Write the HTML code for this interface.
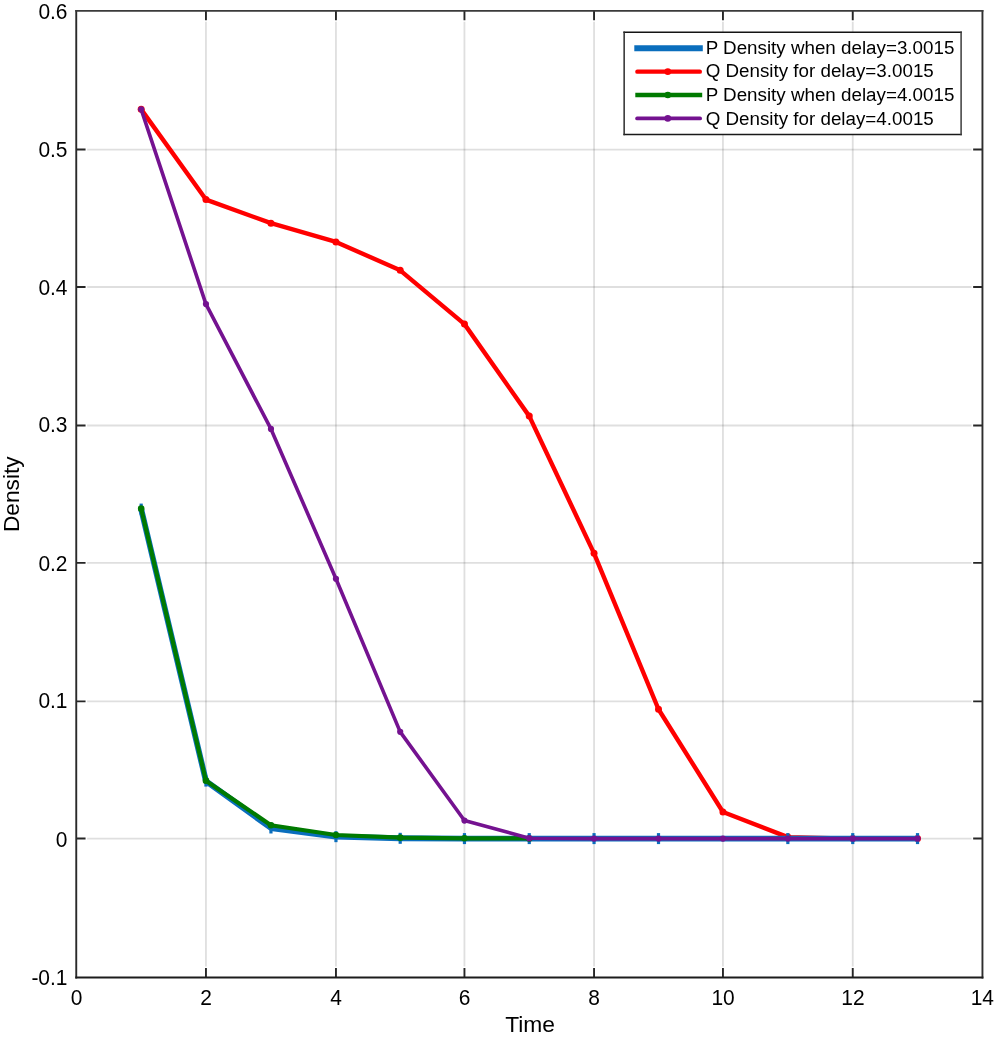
<!DOCTYPE html><html><head><meta charset="utf-8"><title>Density vs Time</title><style>html,body{margin:0;padding:0;background:#fff;overflow:hidden;width:995px;height:1038px;}svg{display:block;will-change:transform;}text{font-family:"Liberation Sans",sans-serif;fill:#000;}</style></head><body>
<svg width="995" height="1038" viewBox="0 0 995 1038">
<rect width="995" height="1038" fill="#fff"/>
<g stroke="#262626" stroke-opacity="0.15" stroke-width="1.8" fill="none"><path d="M205.95 21.80V966.50M335.95 21.80V966.50M464.45 21.80V966.50M594.05 21.80V966.50M722.95 21.80V966.50M852.75 21.80V966.50"/><path d="M87.15 149.54H971.55M87.15 287.00H971.55M87.15 425.50H971.55M87.15 562.83H971.55M87.15 701.40H971.55M87.15 838.55H971.55"/></g>
<path d="M205.95 977.40V968.10M205.95 10.90V20.20M335.95 977.40V968.10M335.95 10.90V20.20M464.45 977.40V968.10M464.45 10.90V20.20M594.05 977.40V968.10M594.05 10.90V20.20M722.95 977.40V968.10M722.95 10.90V20.20M852.75 977.40V968.10M852.75 10.90V20.20M76.25 149.54H85.55M982.45 149.54H973.15M76.25 287.00H85.55M982.45 287.00H973.15M76.25 425.50H85.55M982.45 425.50H973.15M76.25 562.83H85.55M982.45 562.83H973.15M76.25 701.40H85.55M982.45 701.40H973.15M76.25 838.55H85.55M982.45 838.55H973.15" stroke="#262626" stroke-width="1.9" fill="none"/>
<path d="M76.25 9.95V978.40" stroke="#2a2a2a" stroke-width="1.9"/>
<path d="M982.45 9.95V978.40" stroke="#2e2e2e" stroke-width="1.9"/>
<path d="M75.30 10.90H983.40" stroke="#3a3a3a" stroke-width="1.9"/>
<path d="M75.30 977.40H983.40" stroke="#1c1c1c" stroke-width="2"/>
<polyline points="141.18,109.36 205.95,199.57 270.95,223.16 335.95,241.91 400.20,270.33 464.45,324.12 529.25,416.12 594.05,553.36 658.50,709.22 722.95,811.98 787.85,837.08 852.75,838.60 917.52,838.60" fill="none" stroke="#ff0000" stroke-width="4.4" stroke-linejoin="round"/><circle cx="141.18" cy="109.36" r="3.5" fill="#ff0000"/><circle cx="205.95" cy="199.57" r="3.5" fill="#ff0000"/><circle cx="270.95" cy="223.16" r="3.5" fill="#ff0000"/><circle cx="335.95" cy="241.91" r="3.5" fill="#ff0000"/><circle cx="400.20" cy="270.33" r="3.5" fill="#ff0000"/><circle cx="464.45" cy="324.12" r="3.5" fill="#ff0000"/><circle cx="529.25" cy="416.12" r="3.5" fill="#ff0000"/><circle cx="594.05" cy="553.36" r="3.5" fill="#ff0000"/><circle cx="658.50" cy="709.22" r="3.5" fill="#ff0000"/><circle cx="722.95" cy="811.98" r="3.5" fill="#ff0000"/><circle cx="787.85" cy="837.08" r="3.5" fill="#ff0000"/><circle cx="852.75" cy="838.60" r="3.5" fill="#ff0000"/><circle cx="917.52" cy="838.60" r="3.5" fill="#ff0000"/>
<polyline points="141.18,509.09 205.95,781.08 270.95,827.98 335.95,836.67 400.20,838.32 464.45,838.60 529.25,838.60 594.05,838.60 658.50,838.60 722.95,838.60 787.85,838.60 852.75,838.60 917.52,838.60" fill="none" stroke="#0a6ebd" stroke-width="5.9" stroke-linejoin="round"/><path d="M141.18 503.59V514.59" stroke="#0a6ebd" stroke-width="3.2"/><path d="M205.95 775.58V786.58" stroke="#0a6ebd" stroke-width="3.2"/><path d="M270.95 822.48V833.48" stroke="#0a6ebd" stroke-width="3.2"/><path d="M335.95 831.17V842.17" stroke="#0a6ebd" stroke-width="3.2"/><path d="M400.20 832.82V843.82" stroke="#0a6ebd" stroke-width="3.2"/><path d="M464.45 833.10V844.10" stroke="#0a6ebd" stroke-width="3.2"/><path d="M529.25 833.10V844.10" stroke="#0a6ebd" stroke-width="3.2"/><path d="M594.05 833.10V844.10" stroke="#0a6ebd" stroke-width="3.2"/><path d="M658.50 833.10V844.10" stroke="#0a6ebd" stroke-width="3.2"/><path d="M787.85 833.10V844.10" stroke="#0a6ebd" stroke-width="3.2"/><path d="M852.75 833.10V844.10" stroke="#0a6ebd" stroke-width="3.2"/><path d="M917.52 833.10V844.10" stroke="#0a6ebd" stroke-width="3.2"/>
<polyline points="141.18,508.67 205.95,780.67 270.95,825.22 335.95,835.01 400.20,837.63 464.45,838.32 529.25,838.46" fill="none" stroke="#007a00" stroke-width="4.2" stroke-linejoin="round"/><circle cx="141.18" cy="508.67" r="3.3" fill="#007a00"/><circle cx="205.95" cy="780.67" r="3.3" fill="#007a00"/><circle cx="270.95" cy="825.22" r="3.3" fill="#007a00"/><circle cx="335.95" cy="835.01" r="3.3" fill="#007a00"/><circle cx="400.20" cy="837.63" r="3.3" fill="#007a00"/><circle cx="464.45" cy="838.32" r="3.3" fill="#007a00"/><circle cx="529.25" cy="838.46" r="3.3" fill="#007a00"/>
<polyline points="141.18,109.36 205.95,304.12 270.95,428.95 335.95,578.74 400.20,731.84 464.45,820.53 529.25,838.19 594.05,838.60 658.50,838.60 722.95,838.60 787.85,838.60 852.75,838.60 917.52,838.60" fill="none" stroke="#741290" stroke-width="3.6" stroke-linejoin="round"/><circle cx="141.18" cy="109.36" r="3.1" fill="#741290"/><circle cx="205.95" cy="304.12" r="3.1" fill="#741290"/><circle cx="270.95" cy="428.95" r="3.1" fill="#741290"/><circle cx="335.95" cy="578.74" r="3.1" fill="#741290"/><circle cx="400.20" cy="731.84" r="3.1" fill="#741290"/><circle cx="464.45" cy="820.53" r="3.1" fill="#741290"/><circle cx="529.25" cy="838.19" r="3.1" fill="#741290"/><circle cx="594.05" cy="838.60" r="3.1" fill="#741290"/><circle cx="658.50" cy="838.60" r="3.1" fill="#741290"/><circle cx="722.95" cy="838.60" r="3.1" fill="#741290"/><circle cx="787.85" cy="838.60" r="3.1" fill="#741290"/><circle cx="852.75" cy="838.60" r="3.1" fill="#741290"/><circle cx="917.52" cy="838.60" r="3.1" fill="#741290"/>
<text transform="translate(76.60,1005.2) scale(0.975,1)" font-size="21.5" text-anchor="middle">0</text>
<text transform="translate(206.10,1005.2) scale(0.975,1)" font-size="21.5" text-anchor="middle">2</text>
<text transform="translate(336.10,1005.2) scale(0.975,1)" font-size="21.5" text-anchor="middle">4</text>
<text transform="translate(464.60,1005.2) scale(0.975,1)" font-size="21.5" text-anchor="middle">6</text>
<text transform="translate(594.20,1005.2) scale(0.975,1)" font-size="21.5" text-anchor="middle">8</text>
<text transform="translate(723.10,1005.2) scale(0.975,1)" font-size="21.5" text-anchor="middle">10</text>
<text transform="translate(852.90,1005.2) scale(0.975,1)" font-size="21.5" text-anchor="middle">12</text>
<text transform="translate(982.35,1005.2) scale(0.975,1)" font-size="21.5" text-anchor="middle">14</text>
<text transform="translate(67.5,18.83) scale(0.975,1)" font-size="21.5" text-anchor="end">0.6</text>
<text transform="translate(67.5,156.70) scale(0.975,1)" font-size="21.5" text-anchor="end">0.5</text>
<text transform="translate(67.5,294.57) scale(0.975,1)" font-size="21.5" text-anchor="end">0.4</text>
<text transform="translate(67.5,432.44) scale(0.975,1)" font-size="21.5" text-anchor="end">0.3</text>
<text transform="translate(67.5,571.21) scale(0.975,1)" font-size="21.5" text-anchor="end">0.2</text>
<text transform="translate(67.5,708.18) scale(0.975,1)" font-size="21.5" text-anchor="end">0.1</text>
<text transform="translate(67.5,847.05) scale(0.975,1)" font-size="21.5" text-anchor="end">0</text>
<text transform="translate(67.5,984.72) scale(0.975,1)" font-size="21.5" text-anchor="end">-0.1</text>
<text x="530.1" y="1032.4" font-size="22.8" text-anchor="middle">Time</text>
<text transform="translate(19.1,494.25) rotate(-90)" font-size="22.7" text-anchor="middle">Density</text>
<rect x="624.15" y="32.35" width="336.95" height="102.10" fill="#fff"/>
<path d="M623.40 32.35H961.85" stroke="#141414" stroke-width="1.5"/>
<path d="M623.40 134.45H961.85" stroke="#1a1a1a" stroke-width="1.6"/>
<path d="M624.15 31.60V135.20" stroke="#2c2c2c" stroke-width="1.5"/>
<path d="M961.10 31.60V135.20" stroke="#3c3c3c" stroke-width="1.5"/>
<path d="M634.3 48.20H702.8" stroke="#0a6ebd" stroke-width="5.9"/>
<text transform="translate(705.66,53.70)" font-size="18.8">P Density when delay=3.0015</text>
<path d="M637.40 71.65H699.80" stroke="#ff0000" stroke-width="4.4" stroke-linecap="round"/>
<circle cx="667.8" cy="71.65" r="3.3" fill="#ff0000"/>
<text transform="translate(705.66,77.30)" font-size="18.8">Q Density for delay=3.0015</text>
<path d="M635.3 94.95H702.2" stroke="#007a00" stroke-width="4.4"/>
<circle cx="667.8" cy="94.95" r="3.3" fill="#007a00"/>
<text transform="translate(705.66,101.20)" font-size="18.8">P Density when delay=4.0015</text>
<path d="M637.05 118.40H700.15" stroke="#741290" stroke-width="3.7" stroke-linecap="round"/>
<circle cx="667.8" cy="118.40" r="3.3" fill="#741290"/>
<text transform="translate(705.66,125.00)" font-size="18.8">Q Density for delay=4.0015</text>
</svg></body></html>
